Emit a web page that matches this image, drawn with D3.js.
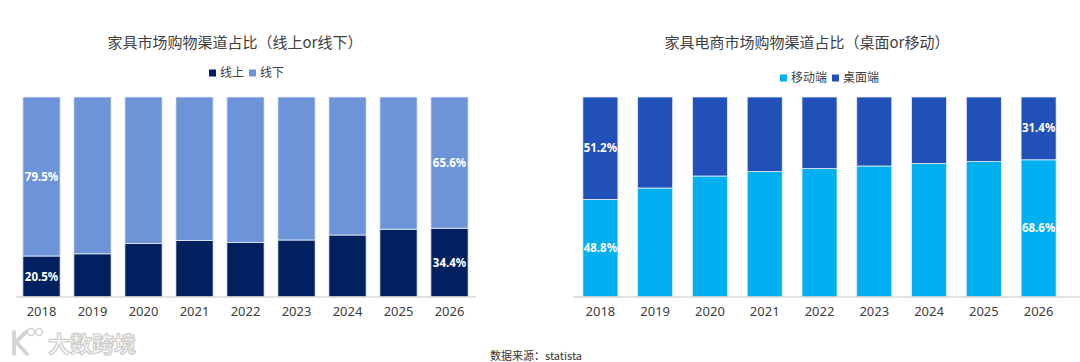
<!DOCTYPE html>
<html><head><meta charset="utf-8">
<script src="https://cdn.jsdelivr.net/npm/d3@7"></script>
<style>
html,body{margin:0;padding:0;background:#fff;}
svg{display:block;font-family:"Noto Sans CJK SC","Noto Sans",sans-serif;}
</style></head>
<body>
<svg id="c" width="1080" height="362"></svg>
<script>
const years = ["2018","2019","2020","2021","2022","2023","2024","2025","2026"];
// Chart 1: online vs offline (%)
const online  = [20.5, 21.6, 26.8, 28.3, 27.2, 28.5, 31.0, 33.9, 34.4];
const offline = online.map(v => +(100 - v).toFixed(1));
// Chart 2: mobile vs desktop (%)
const mobile  = [48.8, 54.5, 60.5, 62.7, 64.2, 65.5, 66.7, 67.7, 68.6];
const desktop = mobile.map(v => +(100 - v).toFixed(1));

const titles = ["家具市场购物渠道占比（线上or线下）", "家具电商市场购物渠道占比（桌面or移动）"];
const legend1 = ["线上", "线下"];
const legend2 = ["移动端", "桌面端"];
const labeled1 = {"2018": true, "2026": true};
const source = "数据来源：statista";

const svg = d3.select("#c");
const yTop = 97, yBot = 297;
const y = d3.scaleLinear().domain([0, 100]).range([yBot, yTop]);

function drawChart(cfg) {
  const g = svg.append("g");
  const x = d3.scaleBand().domain(years).range(cfg.range).paddingInner(cfg.pad).paddingOuter(cfg.pad / 2);
  const stackData = years.map((yr, i) => ({year: yr, a: cfg.a[i], b: cfg.b[i]}));
  const stack = d3.stack().keys(["a", "b"])(stackData);
  const colors = {a: cfg.colA, b: cfg.colB};
  stack.forEach(layer => {
    g.selectAll(null).data(layer).enter().append("rect")
      .attr("x", d => x(d.data.year))
      .attr("width", x.bandwidth())
      .attr("y", d => y(d[1]))
      .attr("height", d => y(d[0]) - y(d[1]))
      .attr("fill", colors[layer.key])
      .attr("stroke", "#e8eef8").attr("stroke-width", 0.8);
    g.selectAll(null).data(layer.filter(d => labeled1[d.data.year])).enter().append("text")
      .attr("x", d => x(d.data.year) + x.bandwidth() / 2)
      .attr("y", d => (y(d[0]) + y(d[1])) / 2)
      .attr("dy", "0.35em").attr("text-anchor", "middle")
      .attr("fill", "#fff").attr("font-size", 11.5).attr("font-weight", "bold")
      .attr("font-family", "'Noto Sans', sans-serif")
      .text(d => (d[1] - d[0]).toFixed(1) + "%");
  });
  // axis
  const ax = g.append("g").attr("transform", `translate(0,${yBot})`)
    .call(d3.axisBottom(x).tickSize(0).tickPadding(10));
  ax.select(".domain").attr("stroke", "#d9d9d9").attr("stroke-width", 1.5)
    .attr("d", `M${cfg.axisRange[0]},0H${cfg.axisRange[1]}`);
  ax.selectAll("text").attr("font-size", 13).attr("fill", "#404040")
    .attr("font-family", "'Noto Sans', sans-serif");
  // title
  g.append("text").attr("x", cfg.titleX).attr("y", 43).attr("dy", "0.35em")
    .attr("text-anchor", "middle").attr("font-size", 15).attr("fill", "#404040")
    .text(cfg.title);
  // legend
  const lg = g.append("g").attr("transform", `translate(${cfg.legX},${cfg.legY})`);
  let off = 0;
  cfg.legend.forEach((name, i) => {
    lg.append("rect").attr("x", off).attr("y", -3.5).attr("width", 7).attr("height", 7)
      .attr("fill", cfg.legCols[i]);
    const t = lg.append("text").attr("x", off + 11).attr("y", 0).attr("dy", "0.35em")
      .attr("font-size", 12).attr("fill", "#404040").text(name);
    off += 11 + t.node().getComputedTextLength() + 5;
  });
}

drawChart({range: [16, 475], axisRange: [16, 476], pad: 0.27, a: online, b: offline,
  colA: "#002060", colB: "#6D94D8", title: titles[0], titleX: 235,
  legend: legend1, legCols: ["#002060", "#6D94D8"], legX: 209, legY: 73});
drawChart({range: [573, 1066], axisRange: [573, 1080], pad: 0.36, a: mobile, b: desktop,
  colA: "#00B0F0", colB: "#2150B8", title: titles[1], titleX: 807,
  legend: legend2, legCols: ["#00B0F0", "#2150B8"], legX: 780, legY: 78});

// watermark
const wm = svg.append("g").attr("opacity", 0.9);
wm.append("path").attr("d", "M14,332 L14,354 M14,344 L26,332 M16,342 L27,354")
  .attr("fill", "none").attr("stroke", "#d0d0d0").attr("stroke-width", 4).attr("stroke-linecap", "round");
wm.append("circle").attr("cx", 31).attr("cy", 332).attr("r", 3.5).attr("fill", "none").attr("stroke", "#d0d0d0").attr("stroke-width", 1.5);
wm.append("circle").attr("cx", 39).attr("cy", 332).attr("r", 3.5).attr("fill", "none").attr("stroke", "#d0d0d0").attr("stroke-width", 1.5);
wm.append("text").attr("x", 48).attr("y", 344).attr("dy", "0.35em").attr("font-size", 22)
  .attr("fill", "#fff").attr("stroke", "#c8c8c8").attr("stroke-width", 1.2).attr("font-weight", "bold")
  .text("大数跨境");

svg.append("text").attr("x", 490).attr("y", 360).attr("font-size", 11).attr("fill", "#333")
  .text(source);
</script>
</body></html>
